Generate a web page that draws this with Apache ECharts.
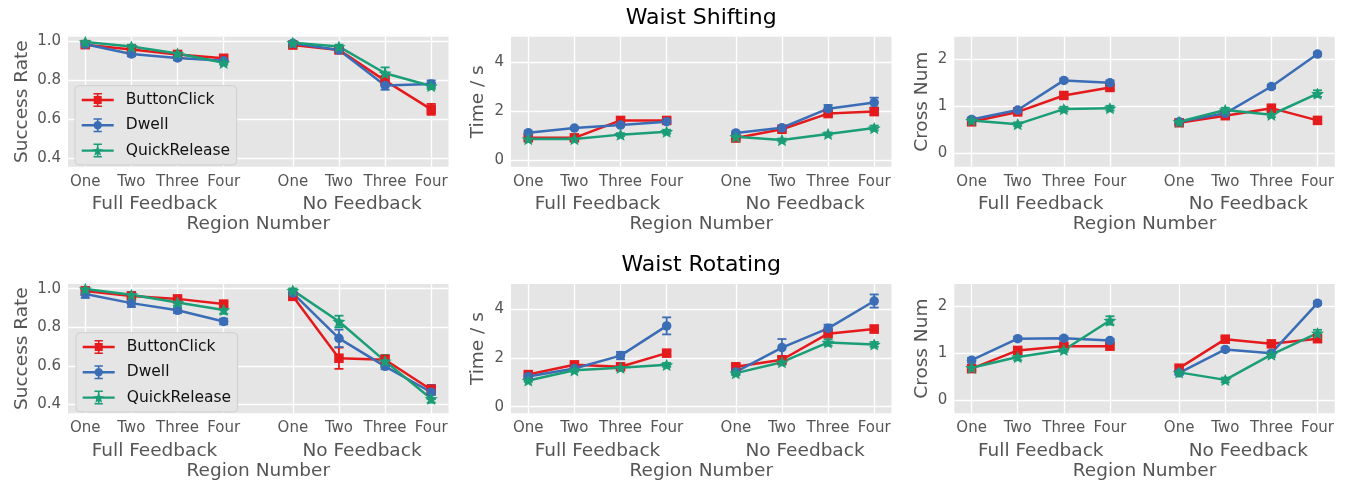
<!DOCTYPE html>
<html><head><meta charset="utf-8">
<script src="https://cdn.jsdelivr.net/npm/echarts@6/dist/echarts.min.js"></script>
<style>html,body{margin:0;padding:0;background:#fff}#c{width:1347px;height:483px}</style>
</head><body><div id="c"></div>
<script>
// ---------- data ----------
const regions = ['One', 'Two', 'Three', 'Four'];
const groups = ['Full Feedback', 'No Feedback'];
const methods = ['ButtonClick', 'Dwell', 'QuickRelease'];
const rowTitles = ['Waist Shifting', 'Waist Rotating'];
const metricNames = ['Success Rate', 'Time / s', 'Cross Num'];
const xAxisName = 'Region Number';

const successTicks = [0.4, 0.6, 0.8, 1.0];
const timeTicks = [0, 2, 4];
const crossTicks = [0, 1, 2];

// each array: Full Feedback One..Four, then No Feedback One..Four
// Waist Shifting - Success Rate
const shiftSuccessButton = [0.983, 0.958, 0.933, 0.913, 0.981, 0.956, 0.798, 0.650];
const shiftSuccessButtonErr = [0.012, 0.012, 0.010, 0.010, 0.010, 0.010, 0.025, 0.028];
const shiftSuccessDwell = [0.985, 0.935, 0.915, 0.900, 0.990, 0.955, 0.773, 0.781];
const shiftSuccessDwellErr = [0.010, 0.012, 0.012, 0.010, 0.008, 0.012, 0.022, 0.018];
const shiftSuccessQuick = [0.997, 0.973, 0.938, 0.890, 0.993, 0.973, 0.836, 0.770];
const shiftSuccessQuickErr = [0.006, 0.010, 0.010, 0.010, 0.006, 0.010, 0.030, 0.015];
// Waist Shifting - Time
const shiftTimeButton = [0.91, 0.91, 1.62, 1.62, 0.90, 1.26, 1.90, 1.98];
const shiftTimeButtonErr = [0.08, 0.07, 0.12, 0.10, 0.08, 0.08, 0.10, 0.12];
const shiftTimeDwell = [1.12, 1.31, 1.43, 1.57, 1.11, 1.32, 2.10, 2.35];
const shiftTimeDwellErr = [0.06, 0.05, 0.06, 0.08, 0.06, 0.08, 0.15, 0.20];
const shiftTimeQuick = [0.86, 0.86, 1.04, 1.16, 0.95, 0.82, 1.07, 1.31];
const shiftTimeQuickErr = [0.06, 0.06, 0.06, 0.08, 0.06, 0.06, 0.06, 0.10];
// Waist Shifting - Cross Num
const shiftCrossButton = [0.67, 0.88, 1.23, 1.40, 0.65, 0.80, 0.96, 0.70];
const shiftCrossButtonErr = [0.05, 0.04, 0.05, 0.05, 0.04, 0.04, 0.06, 0.04];
const shiftCrossDwell = [0.72, 0.92, 1.55, 1.50, 0.67, 0.85, 1.42, 2.11];
const shiftCrossDwellErr = [0.04, 0.04, 0.04, 0.05, 0.04, 0.04, 0.04, 0.04];
const shiftCrossQuick = [0.70, 0.62, 0.94, 0.96, 0.67, 0.92, 0.82, 1.27];
const shiftCrossQuickErr = [0.04, 0.04, 0.05, 0.05, 0.04, 0.05, 0.05, 0.07];
// Waist Rotating - Success Rate
const rotSuccessButton = [0.988, 0.962, 0.947, 0.920, 0.960, 0.640, 0.632, 0.477];
const rotSuccessButtonErr = [0.020, 0.015, 0.015, 0.012, 0.015, 0.055, 0.025, 0.025];
const rotSuccessDwell = [0.972, 0.925, 0.888, 0.830, 0.977, 0.743, 0.598, 0.464];
const rotSuccessDwellErr = [0.020, 0.020, 0.015, 0.015, 0.015, 0.045, 0.015, 0.035];
const rotSuccessQuick = [0.998, 0.968, 0.928, 0.890, 0.991, 0.830, 0.625, 0.430];
const rotSuccessQuickErr = [0.006, 0.015, 0.015, 0.020, 0.010, 0.030, 0.030, 0.020];
// Waist Rotating - Time
const rotTimeButton = [1.32, 1.72, 1.64, 2.20, 1.64, 1.93, 3.00, 3.19];
const rotTimeButtonErr = [0.06, 0.08, 0.08, 0.10, 0.10, 0.10, 0.10, 0.14];
const rotTimeDwell = [1.24, 1.57, 2.10, 3.32, 1.43, 2.43, 3.22, 4.34];
const rotTimeDwellErr = [0.07, 0.07, 0.15, 0.35, 0.10, 0.35, 0.15, 0.27];
const rotTimeQuick = [1.08, 1.50, 1.60, 1.72, 1.38, 1.83, 2.64, 2.56];
const rotTimeQuickErr = [0.06, 0.06, 0.07, 0.08, 0.08, 0.10, 0.13, 0.10];
// Waist Rotating - Cross Num
const rotCrossButton = [0.67, 1.06, 1.15, 1.15, 0.68, 1.30, 1.20, 1.31];
const rotCrossButtonErr = [0.05, 0.05, 0.05, 0.04, 0.05, 0.05, 0.05, 0.05];
const rotCrossDwell = [0.85, 1.31, 1.32, 1.27, 0.58, 1.08, 1.00, 2.07];
const rotCrossDwellErr = [0.05, 0.04, 0.04, 0.03, 0.04, 0.04, 0.04, 0.04];
const rotCrossQuick = [0.69, 0.92, 1.07, 1.70, 0.59, 0.43, 0.97, 1.43];
const rotCrossQuickErr = [0.05, 0.07, 0.04, 0.09, 0.04, 0.05, 0.05, 0.07];

// ---------- build ----------
const panels = [
  [[shiftSuccessButton, shiftSuccessButtonErr], [shiftSuccessDwell, shiftSuccessDwellErr], [shiftSuccessQuick, shiftSuccessQuickErr]],
  [[shiftTimeButton, shiftTimeButtonErr], [shiftTimeDwell, shiftTimeDwellErr], [shiftTimeQuick, shiftTimeQuickErr]],
  [[shiftCrossButton, shiftCrossButtonErr], [shiftCrossDwell, shiftCrossDwellErr], [shiftCrossQuick, shiftCrossQuickErr]],
  [[rotSuccessButton, rotSuccessButtonErr], [rotSuccessDwell, rotSuccessDwellErr], [rotSuccessQuick, rotSuccessQuickErr]],
  [[rotTimeButton, rotTimeButtonErr], [rotTimeDwell, rotTimeDwellErr], [rotTimeQuick, rotTimeQuickErr]],
  [[rotCrossButton, rotCrossButtonErr], [rotCrossDwell, rotCrossDwellErr], [rotCrossQuick, rotCrossQuickErr]]
];
const tickSets = [successTicks, timeTicks, crossTicks];

// ---------- style / layout ----------
const FONT = 'DejaVu Sans';
const GRAY = '#555555';
const colors = ['#e41a1c', '#3a6db5', '#1b9e77'];
const groupGap = 4.5;
const xPos = (g, r) => g * groupGap + r;
const xMin = -0.375, xMax = 7.875;
const colLeft = [68, 511, 954.3];
const colWidth = 380.5;
const rowTop = [36.7, 284];
const rowHeight = [130, 129.3];
const yRanges = [[0.355, 1.024], [-0.27, 5.04], [-0.285, 2.48]];
const yNameGap = [36, 23, 23];

function starPath(cx, cy, R, r) {
  let d = '';
  for (let i = 0; i < 10; i++) {
    const a = -Math.PI / 2 + i * Math.PI / 5;
    const rad = i % 2 ? r : R;
    d += (i ? 'L' : 'M') + (cx + rad * Math.cos(a)).toFixed(2) + ',' + (cy + rad * Math.sin(a)).toFixed(2);
  }
  return d + 'Z';
}
const symbols = ['rect', 'circle', 'path://' + starPath(10, 10, 10, 4.6)];
const symbolSizes = [9.5, 9.5, 13];

const iconBase = 'M0,5.8 L32,5.8 L32,8.2 L0,8.2 Z M15.2,0 L16.8,0 L16.8,14 L15.2,14 Z M11.8,0 L20.2,0 L20.2,1.5 L11.8,1.5 Z M11.8,12.5 L20.2,12.5 L20.2,14 L11.8,14 Z ';
const iconMarkers = [
  'M12,3 L20,3 L20,11 L12,11 Z',
  'M11.8,7 A4.2,4.2 0 1 1 20.2,7 A4.2,4.2 0 1 1 11.8,7 Z',
  starPath(16, 7.5, 5.8, 2.6)
];

const grids = [], xAxes = [], yAxes = [], series = [], legends = [];
const allX = [];
groups.forEach((g, gi) => regions.forEach((r, ri) => allX.push(xPos(gi, ri))));
const groupCenters = groups.map((g, gi) => xPos(gi, (regions.length - 1) / 2));

function errRender(params, api) {
  const x = api.value(0), lo = api.value(1), hi = api.value(2);
  const p1 = api.coord([x, lo]), p2 = api.coord([x, hi]);
  const cw = 4.5;
  const style = { stroke: api.visual('color'), lineWidth: 1.8 };
  return {
    type: 'group', children: [
      { type: 'line', shape: { x1: p1[0], y1: p1[1], x2: p2[0], y2: p2[1] }, style },
      { type: 'line', shape: { x1: p1[0] - cw, y1: p1[1], x2: p1[0] + cw, y2: p1[1] }, style },
      { type: 'line', shape: { x1: p2[0] - cw, y1: p2[1], x2: p2[0] + cw, y2: p2[1] }, style }
    ]
  };
}

panels.forEach((panel, pi) => {
  const row = Math.floor(pi / 3), col = pi % 3;
  grids.push({
    left: colLeft[col], top: rowTop[row], width: colWidth, height: rowHeight[row],
    show: true, backgroundColor: '#E5E5E5', borderWidth: 0
  });
  // region tick axis
  xAxes.push({
    gridIndex: pi, type: 'value', min: xMin, max: xMax,
    axisLine: { show: false },
    axisTick: { show: false, customValues: allX },
    axisLabel: {
      customValues: allX, margin: 7.5, color: GRAY, fontSize: 15, fontFamily: FONT,
      formatter: v => regions[Math.round(v >= groupGap - 0.5 ? v - groupGap : v)]
    },
    splitLine: { show: true, lineStyle: { color: '#ffffff', width: 1.3 } }
  });
  // group axis
  xAxes.push({
    gridIndex: pi, type: 'value', min: xMin, max: xMax, position: 'bottom',
    axisLine: { show: false },
    axisTick: { show: false, customValues: groupCenters },
    axisLabel: {
      customValues: groupCenters, margin: 28, color: GRAY, fontSize: 18.5, fontFamily: FONT,
      formatter: v => groups[v > groupGap ? 1 : 0]
    },
    splitLine: { show: false },
    name: xAxisName, nameLocation: 'middle', nameGap: 48,
    nameTextStyle: { color: GRAY, fontSize: 18.5, fontFamily: FONT }
  });
  const ticks = tickSets[col];
  yAxes.push({
    gridIndex: pi, type: 'value', min: yRanges[col][0], max: yRanges[col][1],
    axisLine: { show: false },
    axisTick: { show: false, customValues: ticks },
    axisLabel: {
      customValues: ticks, margin: 7, color: GRAY, fontSize: 15, fontFamily: FONT,
      formatter: v => col === 0 ? v.toFixed(1) : String(Math.round(v))
    },
    splitLine: { show: true, lineStyle: { color: '#ffffff', width: 1.3 } },
    name: metricNames[col], nameLocation: 'middle', nameGap: yNameGap[col],
    nameTextStyle: { color: GRAY, fontSize: 18.5, fontFamily: FONT }
  });
  panel.forEach(([vals, errs], mi) => {
    const color = colors[mi];
    series.push({
      type: 'custom', name: methods[mi], xAxisIndex: pi * 2, yAxisIndex: pi,
      renderItem: errRender, itemStyle: { color }, silent: true, z: 2,
      encode: { x: 0, y: [1, 2] },
      data: vals.map((v, k) => [allX[k], v - errs[k], v + errs[k]])
    });
    groups.forEach((g, gi) => {
      series.push({
        type: 'line', name: methods[mi], xAxisIndex: pi * 2, yAxisIndex: pi,
        symbol: symbols[mi], symbolSize: symbolSizes[mi], symbolKeepAspect: true,
        showSymbol: true, silent: true, z: 3,
        lineStyle: { color, width: 2.5 },
        itemStyle: { color, borderWidth: 0 },
        data: regions.map((r, ri) => [xPos(gi, ri), vals[gi * regions.length + ri]])
      });
    });
  });
  if (col === 0) {
    legends.push({
      left: row === 0 ? 75 : 76, top: row === 0 ? 85.7 : 332.7,
      orient: 'vertical', itemWidth: 32, itemHeight: 14, itemGap: 9.3,
      padding: [6.3, 6.5, 6.3, 6.7],
      backgroundColor: '#E5E5E5', borderColor: '#cfcfcf', borderWidth: 1, borderRadius: 4,
      itemStyle: { borderWidth: 0 },
      textStyle: { color: '#111', fontSize: 15.5, fontFamily: FONT, lineHeight: 14, padding: [0, 0, 0, 7] },
      selectedMode: false,
      data: methods.map((m, mi) => ({ name: m, icon: 'path://' + iconBase + iconMarkers[mi] }))
    });
  }
});

const chart = echarts.init(document.getElementById('c'));
chart.setOption({
  animation: false,
  backgroundColor: '#ffffff',
  grid: grids, xAxis: xAxes, yAxis: yAxes, series, legend: legends,
  graphic: rowTitles.map((t, i) => ({
    type: 'text', x: colLeft[1] + colWidth / 2, y: i === 0 ? 18 : 265.5,
    style: { text: t, align: 'center', verticalAlign: 'middle', fill: '#000', fontSize: 22, fontFamily: FONT }
  }))
});
</script>
</body></html>
